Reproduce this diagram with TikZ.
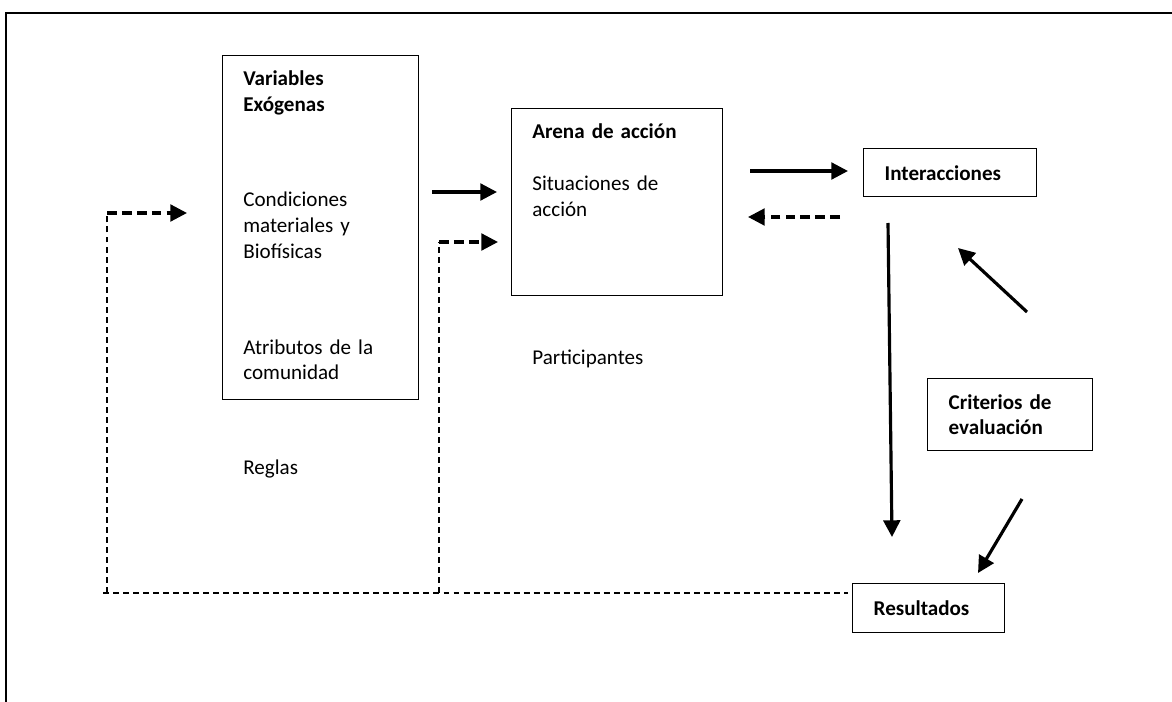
\documentclass[tikz,border=0pt]{standalone}
\usepackage{fontspec}
\setmainfont{Carlito}
\usetikzlibrary{arrows.meta}

\begin{document}
\begin{tikzpicture}[x=0.02cm, y=-0.02cm,
    font=\fontsize{12}{14.7}\selectfont,
    box/.style={draw, line width=0.8pt, inner sep=0pt, anchor=north west},
    tag/.style={box, font=\fontsize{12}{14.7}\selectfont\bfseries, align=left, inner xsep=0.42cm},
    lbl/.style={anchor=base west, inner sep=0pt, align=left, text width=3.6cm},
    titulo/.style={lbl, font=\fontsize{12}{14.7}\selectfont\bfseries},
    flow/.style={line width=1.8pt, -{Triangle[length=9.5pt, width=9.5pt]}},
    back/.style={flow, dash pattern=on 5.5pt off 3pt},
    link/.style={line width=1pt, dash pattern=on 3.4pt off 2.3pt}]
    \useasboundingbox (0,0) rectangle (1172,702);
    % marco
    \draw[line width=1.7pt] (6,702) -- (6,13) -- (1172,13);

    % cajas
    \node[box, minimum width=3.92cm, minimum height=6.88cm] (exo) at (222,55) {};
    \node[box, minimum width=4.22cm, minimum height=3.74cm] (arena) at (511,108) {};
    \node[tag, text width=2.62cm, minimum height=0.96cm] (inter) at (863,148) {Interacciones};
    \node[tag, text width=2.46cm, minimum height=1.44cm] (crit) at (927,378) {Criterios de\\evaluación};
    \node[tag, text width=2.20cm, minimum height=0.98cm] (res) at (852,583) {Resultados};

    % textos
    \node[titulo] (exotit) at (243,86) {Variables\\Exógenas};
    \node[lbl] (cond) at (243,207) {Condiciones\\materiales y\\Biofísicas};
    \node[lbl] (atrib) at (243,354) {Atributos de la\\comunidad};
    \node[lbl] (reglas) at (243,474) {Reglas};
    \node[titulo] (arenatit) at (532,139) {Arena de acción};
    \node[lbl] (sit) at (532,191) {Situaciones de\\acción};
    \node[lbl] (part) at (532,364) {Participantes};

    % puntos de las flechas
    \coordinate (exoout) at (432,192);
    \coordinate (arenain) at (497,192);
    \coordinate (arenaout) at (750,171);
    \coordinate (interin) at (848,171);
    \coordinate (interback) at (840,217);
    \coordinate (arenaback) at (748,217);
    \coordinate (interdown) at (888,223);
    \coordinate (resup) at (892,537);
    \coordinate (critup) at (1027,312);
    \coordinate (intertip) at (958,248);
    \coordinate (critdown) at (1022,499);
    \coordinate (restip) at (978,573);
    \coordinate (leftfoot) at (103,593);
    \coordinate (leftcorner) at (107,213);
    \coordinate (exoin) at (187,213);
    \coordinate (midfoot) at (439,593);
    \coordinate (midcorner) at (439,242);
    \coordinate (arenain2) at (498,242);
    \coordinate (resfoot) at (848,593);

    % flechas
    \draw[flow] (exoout) -- (arenain);
    \draw[flow] (arenaout) -- (interin);
    \draw[back] (interback) -- (arenaback);
    \draw[flow] (interdown) -- (resup);
    \draw[flow] (critup) -- (intertip);
    \draw[flow] (critdown) -- (restip);

    % retroalimentacion
    \draw[link] (leftfoot) -- (resfoot);
    \draw[link] (leftcorner |- leftfoot) -- (leftcorner);
    \draw[link] (midfoot) -- (midcorner);
    \draw[back] (leftcorner) -- (exoin);
    \draw[back] (midcorner) -- (arenain2);
\end{tikzpicture}
\end{document}
